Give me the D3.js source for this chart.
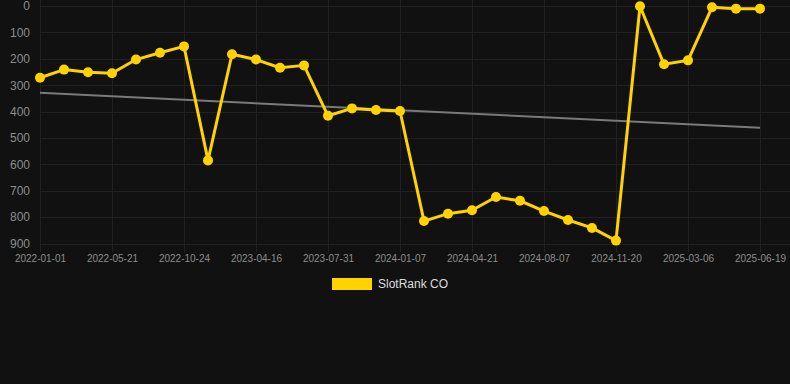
<!DOCTYPE html>
<html>
<head>
<meta charset="utf-8">
<script src="https://cdn.jsdelivr.net/npm/d3@7"></script>
<style>
    html, body { margin: 0; padding: 0; background: #111111; }
    svg { display: block; font-family: Arial, "Liberation Sans", sans-serif; }
</style>
</head>
<body>
<div id="rank-chart"></div>
<script>
// dates between the labelled ticks are estimated
var dates = ["2022-01-01", "2022-02-16", "2022-04-03", "2022-05-21", "2022-07-12", "2022-09-02",
    "2022-10-24", "2022-12-21", "2023-02-17", "2023-04-16", "2023-05-21", "2023-06-25",
    "2023-07-31", "2023-09-22", "2023-11-14", "2024-01-07", "2024-02-11", "2024-03-17",
    "2024-04-21", "2024-05-27", "2024-07-02", "2024-08-07", "2024-09-11", "2024-10-16",
    "2024-11-20", "2024-12-25", "2025-01-29", "2025-03-06", "2025-04-09", "2025-05-14",
    "2025-06-19"];

var rankValues = [272, 241, 251, 255, 203, 177, 153, 585, 183, 203, 234, 225,
    416, 388, 394, 398, 815, 787, 774, 724, 738, 777, 811, 841, 889,
    1, 221, 206, 5, 10, 10];

var tickLabels = ["2022-01-01", "2022-05-21", "2022-10-24", "2023-04-16", "2023-07-31", "2024-01-07",
    "2024-04-21", "2024-08-07", "2024-11-20", "2025-03-06", "2025-06-19"];

var yTicks = [0, 100, 200, 300, 400, 500, 600, 700, 800, 900];

// trend line end values
var trendValues = [329, 461];

var seriesName = "SlotRank CO";

var width = 790, height = 384;

var svg = d3.select("#rank-chart")
    .append("svg")
    .attr("width", width)
    .attr("height", height);

var x = d3.scalePoint()
    .domain(dates)
    .range([40, 760]);

var y = d3.scaleLinear()
    .domain([0, 900])
    .range([6, 243.5]);

var gold = "#ffd200";

// horizontal grid
svg.append("g")
    .selectAll("line")
    .data(yTicks)
    .enter().append("line")
    .attr("x1", 40)
    .attr("x2", width)
    .attr("y1", function(d) { return Math.round(y(d)) + 0.5; })
    .attr("y2", function(d) { return Math.round(y(d)) + 0.5; })
    .attr("stroke", "#212121")
    .attr("stroke-width", 1);

// vertical grid
svg.append("g")
    .selectAll("line")
    .data(tickLabels)
    .enter().append("line")
    .attr("x1", function(d) { return Math.round(x(d)) + 0.5; })
    .attr("x2", function(d) { return Math.round(x(d)) + 0.5; })
    .attr("y1", 0)
    .attr("y2", 252)
    .attr("stroke", "#212121")
    .attr("stroke-width", 1);

// y axis labels
var yAxis = svg.append("g")
    .attr("transform", "translate(30,0)")
    .call(d3.axisLeft(y).tickValues(yTicks).tickSize(0).tickPadding(0));
yAxis.select(".domain").remove();
yAxis.selectAll("text")
    .attr("fill", "#8c8c8c")
    .attr("font-size", 12)
    .attr("font-family", "Arial, 'Liberation Sans', sans-serif");

// x axis labels
var xAxis = svg.append("g")
    .attr("transform", "translate(0,255)")
    .call(d3.axisBottom(x).tickValues(tickLabels).tickSize(0).tickPadding(0));
xAxis.select(".domain").remove();
xAxis.selectAll("text")
    .attr("fill", "#8c8c8c")
    .attr("font-size", 10)
    .attr("font-family", "Arial, 'Liberation Sans', sans-serif");

// trend line
svg.append("line")
    .attr("x1", x(dates[0]))
    .attr("x2", x(dates[dates.length - 1]))
    .attr("y1", y(trendValues[0]))
    .attr("y2", y(trendValues[1]))
    .attr("stroke", "#7a7a7a")
    .attr("stroke-width", 2);

var data = dates.map(function(d, i) { return {date: d, value: rankValues[i]}; });

var line = d3.line()
    .x(function(d) { return x(d.date); })
    .y(function(d) { return y(d.value); });

svg.append("path")
    .datum(data)
    .attr("fill", "none")
    .attr("stroke", gold)
    .attr("stroke-width", 3)
    .attr("stroke-linejoin", "round")
    .attr("d", line);

svg.append("g")
    .selectAll("circle")
    .data(data)
    .enter().append("circle")
    .attr("cx", function(d) { return x(d.date); })
    .attr("cy", function(d) { return y(d.value); })
    .attr("r", 5)
    .attr("fill", gold);

// legend
var legend = svg.append("g")
    .attr("transform", "translate(332,278)");

legend.append("rect")
    .attr("width", 40)
    .attr("height", 12)
    .attr("fill", gold);

legend.append("text")
    .attr("x", 46)
    .attr("y", 6)
    .attr("dy", "0.35em")
    .attr("fill", "#dddddd")
    .attr("font-size", 12)
    .text(seriesName);
</script>
</body>
</html>
